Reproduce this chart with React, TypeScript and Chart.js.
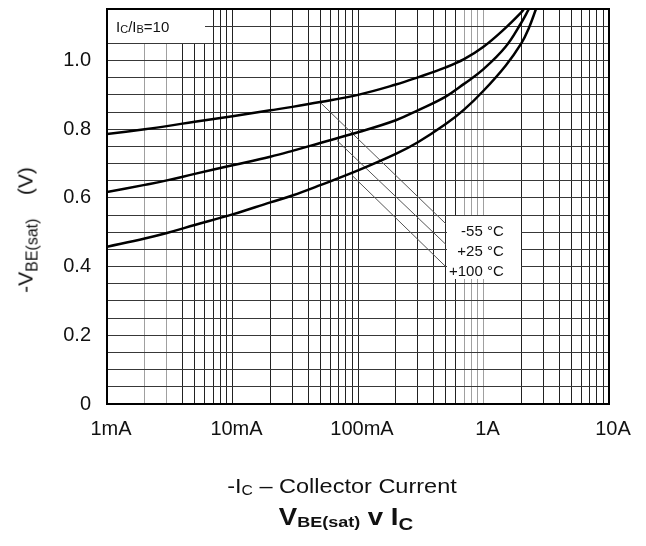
import React, { useEffect, useRef } from 'react';
import { Chart, registerables } from 'chart.js';

Chart.register(...registerables);

// ---------- data ----------
const currentM55 = [0.001, 0.002, 0.003, 0.005, 0.01, 0.02, 0.03, 0.05, 0.1, 0.2, 0.3, 0.5, 0.7, 1, 1.5, 2, 2.1];
const vbeM55 = [0.786, 0.8, 0.809, 0.822, 0.838, 0.855, 0.865, 0.879, 0.9, 0.93, 0.951, 0.98, 1.004, 1.04, 1.095, 1.14, 1.15];

const currentP25 = [0.001, 0.002, 0.003, 0.005, 0.01, 0.02, 0.03, 0.05, 0.1, 0.2, 0.3, 0.5, 0.7, 1, 1.5, 2, 2.3];
const vbeP25 = [0.617, 0.638, 0.651, 0.67, 0.695, 0.72, 0.737, 0.76, 0.791, 0.826, 0.855, 0.895, 0.932, 0.975, 1.04, 1.11, 1.15];

const currentP100 = [0.001, 0.002, 0.003, 0.005, 0.01, 0.02, 0.03, 0.05, 0.1, 0.2, 0.3, 0.5, 0.7, 1, 1.5, 2, 2.3, 2.62];
const vbeP100 = [0.458, 0.482, 0.498, 0.521, 0.552, 0.587, 0.607, 0.637, 0.68, 0.728, 0.762, 0.815, 0.857, 0.912, 0.985, 1.05, 1.095, 1.15];

const seriesLabels = ['-55 °C', '+25 °C', '+100 °C'];

const xTickValues = [0.001, 0.01, 0.1, 1, 10];
const xTickLabels = ['1mA', '10mA', '100mA', '1A', '10A'];
const yTickValues = [0, 0.2, 0.4, 0.6, 0.8, 1.0];
const yTickLabels = ['0', '0.2', '0.4', '0.6', '0.8', '1.0'];

// annotation anchors (data units)
const leaderStart = [
  [0.05, 0.878],
  [0.068, 0.767],
  [0.09, 0.665],
];
const leaderEnd = [
  [0.5, 0.525],
  [0.5, 0.465],
  [0.5, 0.4],
];
const labelBoxX = [0.5, 2];
const labelBoxY = [0.55, 0.365];
const labelTextX = 1.45;
const labelTextY = [0.488, 0.43, 0.372];
const ratioBoxX = [0.001, 0.006];
const ratioBoxY = [1.15, 1.05];
const ratioTextPos = [0.00118, 1.082];

// ---------- styles ----------
const W = 646;
const H = 546;
const FONT = '"Liberation Sans", Arial, Helvetica, sans-serif';
const INK = '#111111';

const lightX = [0.002, 0.003, 0.7, 0.8, 0.9, 1];
function xGridColor(v: number): string {
  if (lightX.some((l) => Math.abs(v / l - 1) < 1e-6)) return '#a0a0a0';
  return '#222222';
}

function pts(xs: number[], ys: number[]) {
  return xs.map((x, i) => ({ x, y: ys[i] }));
}

const annotPlugin = {
  id: 'annot',
  beforeDatasetsDraw(chart: any) {
    const { ctx, chartArea: ca, scales } = chart;
    const x = scales.x;
    const y = scales.y;
    ctx.save();
    // IC/IB box
    ctx.fillStyle = '#ffffff';
    const rx1 = Math.round(x.getPixelForValue(ratioBoxX[1]));
    const ry1 = Math.round(y.getPixelForValue(ratioBoxY[1]));
    ctx.fillRect(ca.left, ca.top, rx1 - ca.left, ry1 - ca.top);
    // temperature label box
    const lx0 = Math.round(x.getPixelForValue(labelBoxX[0])) + 1;
    const lx1 = Math.round(x.getPixelForValue(labelBoxX[1]));
    const ly0 = Math.round(y.getPixelForValue(labelBoxY[0])) + 1;
    const ly1 = Math.round(y.getPixelForValue(labelBoxY[1]));
    ctx.fillRect(lx0, ly0, lx1 - lx0, ly1 - ly0);

    // IC/IB=10 text
    let tx = x.getPixelForValue(ratioTextPos[0]);
    const ty = y.getPixelForValue(ratioTextPos[1]);
    const parts: [string, number, number][] = [
      ['I', 15, 0],
      ['C', 11, 1],
      ['/I', 15, 0],
      ['B', 11, 1],
      ['=10', 15, 0],
    ];
    ctx.fillStyle = INK;
    ctx.textAlign = 'left';
    ctx.textBaseline = 'alphabetic';
    for (const [t, s, dy] of parts) {
      ctx.font = `${s}px ${FONT}`;
      ctx.fillText(t, tx, ty + dy);
      tx += ctx.measureText(t).width;
    }

    // leader lines
    ctx.strokeStyle = '#555555';
    ctx.lineWidth = 1;
    for (let i = 0; i < leaderStart.length; i++) {
      ctx.beginPath();
      ctx.moveTo(x.getPixelForValue(leaderStart[i][0]), y.getPixelForValue(leaderStart[i][1]));
      ctx.lineTo(x.getPixelForValue(leaderEnd[i][0]), y.getPixelForValue(leaderEnd[i][1]));
      ctx.stroke();
    }

    // temperature labels
    ctx.font = `15px ${FONT}`;
    ctx.textAlign = 'right';
    ctx.fillStyle = INK;
    const lxText = x.getPixelForValue(labelTextX);
    seriesLabels.forEach((s, i) => {
      ctx.fillText(s, lxText, y.getPixelForValue(labelTextY[i]));
    });
    ctx.restore();
  },
  afterDraw(chart: any) {
    const { ctx, chartArea: ca } = chart;
    ctx.save();
    ctx.strokeStyle = '#000000';
    ctx.lineWidth = 2;
    ctx.strokeRect(ca.left, ca.top, ca.right - ca.left, ca.bottom - ca.top);
    ctx.restore();
  },
};

export default function App() {
  const ref = useRef<HTMLCanvasElement | null>(null);

  useEffect(() => {
    document.body.style.margin = '0';
    const canvas = ref.current;
    if (!canvas) return;
    const lineStyle = {
      borderColor: '#000000',
      borderWidth: 2.5,
      pointRadius: 0,
      fill: false,
      tension: 0.4,
      clip: 0,
    };
    const chart = new Chart(canvas, {
      type: 'line',
      data: {
        datasets: [
          { label: seriesLabels[0], data: pts(currentM55, vbeM55), ...lineStyle },
          { label: seriesLabels[1], data: pts(currentP25, vbeP25), ...lineStyle },
          { label: seriesLabels[2], data: pts(currentP100, vbeP100), ...lineStyle },
        ],
      },
      plugins: [annotPlugin],
      options: {
        responsive: false,
        animation: false,
        events: [],
        layout: { padding: { left: 0, right: 37, top: 9, bottom: 0 } },
        plugins: { legend: { display: false }, tooltip: { enabled: false }, title: { display: false } },
        scales: {
          x: {
            type: 'logarithmic',
            min: 0.001,
            max: 10,
            border: { display: false },
            afterBuildTicks: (scale: any) => {
              const t: { value: number }[] = [];
              for (let e = -3; e <= 0; e++) {
                for (let m = 1; m <= 9; m++) t.push({ value: m * Math.pow(10, e) });
              }
              t.push({ value: 10 });
              scale.ticks = t;
            },
            afterFit: (scale: any) => {
              scale.height = 142;
              scale.paddingLeft = 0;
              scale.paddingRight = 0;
            },
            grid: {
              drawTicks: false,
              lineWidth: 1,
              color: (c: any) => (c.tick ? xGridColor(c.tick.value) : '#222222'),
            },
            ticks: {
              autoSkip: false,
              maxRotation: 0,
              minRotation: 0,
              padding: 13,
              labelOffset: 4,
              color: INK,
              font: { family: FONT, size: 20 },
              callback: (v: any) => {
                const n = Number(v);
                const i = xTickValues.findIndex((t) => Math.abs(n / t - 1) < 1e-6);
                return i >= 0 ? xTickLabels[i] : '';
              },
            },
          },
          y: {
            type: 'linear',
            min: 0,
            max: 1.15,
            border: { display: false },
            afterBuildTicks: (scale: any) => {
              const t: { value: number }[] = [];
              for (let i = 0; i <= 23; i++) t.push({ value: Math.round(i * 5) / 100 });
              scale.ticks = t;
            },
            afterFit: (scale: any) => {
              scale.width = 107;
              scale.paddingTop = 0;
              scale.paddingBottom = 0;
            },
            grid: { drawTicks: false, lineWidth: 1, color: '#383838' },
            ticks: {
              autoSkip: false,
              padding: 16,
              color: INK,
              font: { family: FONT, size: 20 },
              callback: (v: any) => {
                const n = Number(v);
                const i = yTickValues.findIndex((t) => Math.abs(n - t) < 1e-9);
                return i >= 0 ? yTickLabels[i] : '';
              },
            },
          },
        },
      },
    } as any);
    return () => chart.destroy();
  }, []);

  return (
    <div style={{ position: 'relative', width: W, height: H, background: '#ffffff', fontFamily: FONT, color: INK }}>
      <canvas ref={ref} width={W} height={H} style={{ position: 'absolute', left: 0, top: 0, width: W, height: H }} />
      <div
        style={{
          position: 'absolute',
          left: 26,
          top: 230,
          transform: 'translate(-50%, -50%) rotate(-90deg)',
          whiteSpace: 'nowrap',
          fontSize: 21,
          lineHeight: '21px',
        }}
      >
        -V<span style={{ fontSize: 16, position: 'relative', top: 5 }}>BE(sat)</span>
        {'\u00a0\u00a0\u00a0\u00a0(V)'}
      </div>
      <div
        style={{
          position: 'absolute',
          left: 342,
          top: 475,
          transform: 'translateX(-50%) scaleX(1.12)',
          whiteSpace: 'nowrap',
          fontSize: 21,
          lineHeight: '21px',
        }}
      >
        -I<span style={{ fontSize: 14, position: 'relative', top: 2 }}>C</span>
        {' \u2013 Collector Current'}
      </div>
      <div
        style={{
          position: 'absolute',
          left: 346,
          top: 506,
          transform: 'translateX(-50%) scaleX(1.2)',
          whiteSpace: 'nowrap',
          fontSize: 23,
          lineHeight: '23px',
          fontWeight: 'bold',
        }}
      >
        V<span style={{ fontSize: 15, position: 'relative', top: 2 }}>BE(sat)</span>
        {' v I'}
        <span style={{ fontSize: 17, position: 'relative', top: 5 }}>C</span>
      </div>
    </div>
  );
}
